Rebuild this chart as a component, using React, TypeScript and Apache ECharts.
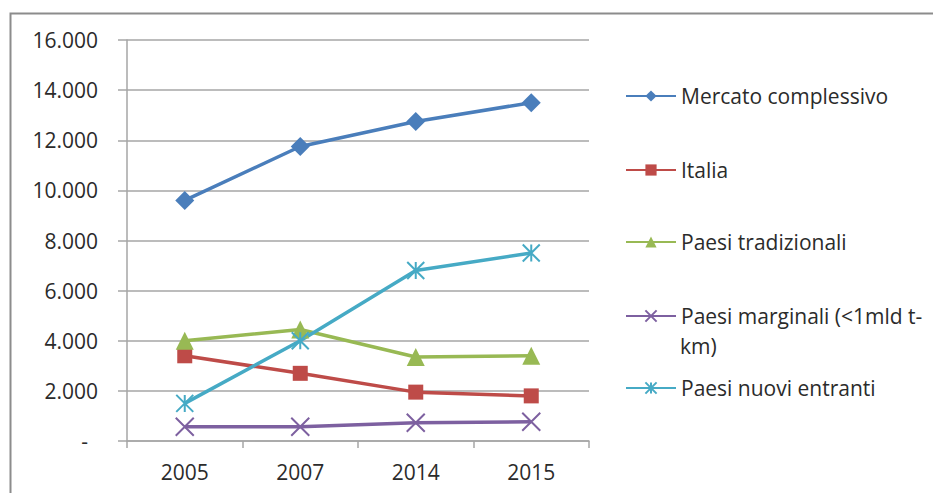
import React, { useEffect, useRef } from "react";
import * as echarts from "echarts";

const categories = ["2005", "2007", "2014", "2015"];
const mercato = [9600, 11750, 12750, 13500];
const italia = [3400, 2700, 1950, 1800];
const tradizionali = [4000, 4450, 3350, 3400];
const marginali = [570, 570, 730, 770];
const nuovi = [1500, 4000, 6800, 7500];

const seriesNames = [
  "Mercato complessivo",
  "Italia",
  "Paesi tradizionali",
  "Paesi marginali (<1mld t-km)",
  "Paesi nuovi entranti",
];
const yTicks = { min: 0, max: 16000, interval: 2000 };

const FONT = "Open Sans";
const TXT = "#2b2b2b";
const GRID = "#a6a6a6";

const xSym = "path://M0,0L10,10M10,0L0,10";
const starSym = "path://M5,0L5,10M0,0L10,10M10,0L0,10";

export default function App() {
  const ref = useRef<HTMLDivElement>(null);
  useEffect(() => {
    if (!ref.current) return;
    const chart = echarts.init(ref.current, undefined, { renderer: "svg" });
    const colors = ["#4a7ebb", "#be4b48", "#98b954", "#7d60a0", "#46aac5"];
    const datas = [mercato, italia, tradizionali, marginali, nuovi];
    const symbols = ["diamond", "rect", "triangle", xSym, starSym];
    const sizes = [19, 15, 18, 18, 17];
    const series = datas.map((d, i) => ({
      name: seriesNames[i],
      type: "line",
      data: d,
      symbol: symbols[i],
      symbolSize: sizes[i],
      color: colors[i],
      lineStyle: { width: 3.5, color: colors[i] },
      itemStyle: i >= 3
        ? { color: colors[i], borderColor: colors[i], borderWidth: 2 }
        : { color: colors[i] },
    }));
    const centers = [96, 170, 242, 316, 388];
    const legends = seriesNames.map((n, i) => ({
      data: [n],
      orient: "vertical",
      left: 625,
      top: centers[i] - 12,
      padding: 0,
      itemWidth: 50,
      itemHeight: 14,
      formatter: (name: string) =>
        name === "Paesi marginali (<1mld t-km)" ? "Paesi marginali (<1mld t-" : name,
      textStyle: { fontFamily: FONT, fontSize: 21, color: TXT, lineHeight: 24 },
      selectedMode: false,
    }));
    chart.setOption({
      animation: false,
      backgroundColor: "#ffffff",
      textStyle: { fontFamily: FONT },
      grid: { left: 127, right: 344, top: 40, bottom: 52 },
      legend: legends,
      xAxis: {
        type: "category",
        data: categories,
        boundaryGap: true,
        axisLine: { lineStyle: { color: GRID, width: 1.5 } },
        axisTick: { show: true, length: 7, lineStyle: { color: GRID, width: 1.5 } },
        axisLabel: { fontFamily: FONT, fontSize: 21, color: TXT, margin: 20 },
      },
      yAxis: {
        type: "value",
        min: yTicks.min,
        max: yTicks.max,
        interval: yTicks.interval,
        axisLine: { show: true, lineStyle: { color: GRID, width: 1.5 } },
        axisTick: { show: true, length: 9, lineStyle: { color: GRID, width: 1.5 } },
        splitLine: { lineStyle: { color: GRID, width: 1.5 } },
        axisLabel: {
          fontFamily: FONT,
          fontSize: 21,
          color: TXT,
          margin: 29,
          formatter: (v: number) =>
            v === 0 ? "{d|-}" : v.toLocaleString("de-DE"),
          rich: { d: { fontFamily: FONT, fontSize: 21, color: TXT, padding: [0, 10, 0, 0] } },
        },
      },
      graphic: [
        {
          type: "rect",
          shape: { x: 10.5, y: 13.5, width: 1000, height: 600 },
          style: { fill: "none", stroke: "#8c8c8c", lineWidth: 2 },
          silent: true,
        },
        {
          type: "text",
          x: 680,
          y: 346,
          style: {
            text: "km)",
            fontFamily: FONT,
            fontSize: 21,
            fill: TXT,
            verticalAlign: "middle",
          },
        },
      ],
      series,
    });
    return () => chart.dispose();
  }, []);
  return <div ref={ref} style={{ width: 933, height: 493, position: "absolute", left: 0, top: 0 }} />;
}
